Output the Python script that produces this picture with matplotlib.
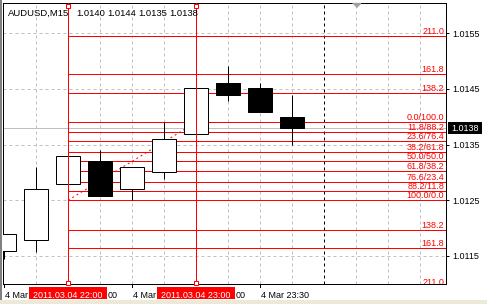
import matplotlib
matplotlib.use("Agg")
import matplotlib.pyplot as plt
from matplotlib.patches import Rectangle, Polygon
import matplotlib.transforms as mtransforms

# ---------------- data ----------------
symbol = "AUDUSD,M15"
header_values = ["1.0140", "1.0144", "1.0135", "1.0138"]
times = ["21:30", "21:45", "22:00", "22:15", "22:30", "22:45", "23:00", "23:15", "23:30", "23:45"]
opens  = [1.01159, 1.01179, 1.01279, 1.01320, 1.01270, 1.01300, 1.01370, 1.01461, 1.01452, 1.0140]
highs  = [1.01189, 1.01309, 1.01340, 1.01340, 1.01309, 1.01391, 1.01455, 1.01492, 1.01461, 1.0144]
lows   = [1.01145, 1.01158, 1.01260, 1.01258, 1.01250, 1.01288, 1.01365, 1.01429, 1.01409, 1.0135]
closes = [1.01189, 1.01270, 1.01329, 1.01258, 1.01309, 1.01360, 1.01451, 1.01440, 1.01409, 1.0138]
current_price = 1.0138
price_ticks = [1.0155, 1.0145, 1.0135, 1.0125, 1.0115]
price_tick_labels = ["1.0155", "1.0145", "1.0135", "1.0125", "1.0115"]

fib_start_bar = 2   # 2011.03.04 22:00
fib_end_bar = 6     # 2011.03.04 23:00
fib_start_label = "2011.03.04 22:00"
fib_end_label = "2011.03.04 23:00"
fib_low = 1.0125
fib_high = 1.0139
fib_levels = [0.0, 11.8, 23.6, 38.2, 50.0, 61.8, 76.6, 88.2, 100.0]
fib_ext = [138.2, 161.8, 211.0]
separator_bar = 10
shift_bar = 11
time_label_bars = [0, 4, 8]

# ---------------- figure ----------------
W, H, DPI = 487, 304, 100
fig = plt.figure(figsize=(W / DPI, H / DPI), dpi=DPI)
fig.patch.set_facecolor("white")
FONT = "Liberation Sans"
FS = 6.5
PX = 72.0 / DPI  # points per pixel

def fx(x):
    return x / W

def fy(y):
    return 1 - y / H

ax_left, ax_right, ax_top, ax_bot = 3, 446, 3, 284.3
ax = fig.add_axes([fx(ax_left), fy(ax_bot), (ax_right - ax_left) / W, (ax_bot - ax_top) / H])
ax.set_facecolor("white")

bar_px = 32.0
x0_px = 4.0
ax.set_xlim((ax_left - x0_px) / bar_px, (ax_right - x0_px) / bar_px)
k = 55670.0
ax.set_ylim(1.0155 - (ax_bot - 33.3) / k, 1.0155 + (33.3 - ax_top) / k)

for s in ax.spines.values():
    s.set_color("black")
    s.set_linewidth(1.0 * PX)

lw = 1.0 * PX
grid_c = "#C0C0C0"
dash = (0, (3, 3))

# grid
for p in price_ticks:
    ax.axhline(p, color=grid_c, lw=lw, ls=dash, zorder=1)
for i in range(1, 14):
    if i == separator_bar:
        ax.axvline(i, color="black", lw=lw, ls=dash, zorder=1.2)
    else:
        ax.axvline(i, color=grid_c, lw=lw, ls=dash, zorder=1)

# current price line
ax.axhline(current_price, color=grid_c, lw=lw, zorder=1.5)

# fibonacci
rng = fib_high - fib_low
red = "#FF0000"
xr = ax.get_xlim()[1]
lbl_tr = ax.transData + mtransforms.ScaledTranslation(0, 0, fig.dpi_scale_trans)
def fib_line(price, label):
    ax.plot([fib_start_bar, xr], [price, price], color=red, lw=lw, zorder=2, solid_capstyle="butt")
    tr = mtransforms.blended_transform_factory(ax.transAxes, ax.transData) + \
        mtransforms.ScaledTranslation(-2.0 / DPI, 2.0 / DPI, fig.dpi_scale_trans)
    ax.text(1.0, price, label, transform=tr, ha="right", va="baseline", color=red,
            fontsize=FS, family=FONT, zorder=6, clip_on=True)

for L in fib_levels:
    price = fib_high - L / 100.0 * rng
    fib_line(price, f"{L:.1f}/{100 - L:.1f}")
for L in fib_ext:
    fib_line(fib_high - L / 100.0 * rng, f"{L:.1f}")
    fib_line(fib_high + (L - 100.0) / 100.0 * rng, f"{L:.1f}")

# dotted trend line of the fibo
ax.plot([fib_start_bar, fib_end_bar], [fib_low, fib_high], color=red, lw=lw,
        ls=(0, (2, 3)), zorder=2)

# candles
bw = 0.75
for i, (o, h, l, c) in enumerate(zip(opens, highs, lows, closes)):
    top, bot = max(o, c), min(o, c)
    ax.plot([i, i], [top, h], color="black", lw=lw, zorder=3, solid_capstyle="butt")
    ax.plot([i, i], [l, bot], color="black", lw=lw, zorder=3, solid_capstyle="butt")
    fc = "white" if c >= o else "black"
    ax.add_patch(Rectangle((i - bw / 2, bot), bw, top - bot, facecolor=fc,
                           edgecolor="black", lw=lw, zorder=3.5))

# vertical object lines
for b in (fib_start_bar, fib_end_bar):
    ax.axvline(b, color=red, lw=lw, zorder=4)
    btr = mtransforms.blended_transform_factory(ax.transData, ax.transAxes)
    for yy in ((ax_bot - 6.3) / (ax_bot - ax_top), (ax_bot - 283.0) / (ax_bot - ax_top)):
        ax.plot([b], [yy], marker="s", ms=4.4 * PX, mfc="white", mec=red, mew=lw,
                transform=btr, clip_on=False, zorder=7)

# chart shift marker
btr = mtransforms.blended_transform_factory(ax.transData, ax.transAxes)
ax.plot([shift_bar], [(ax_bot - 5.3) / (ax_bot - ax_top)],
        marker=[(-1, 0.5), (1, 0.5), (0, -0.5)], ms=8 * PX, color="#A0A0A0",
        mec="#A0A0A0", transform=btr, clip_on=False, zorder=7)

# right price axis
ax.yaxis.tick_right()
ax.set_yticks(price_ticks)
ax.set_yticklabels(price_tick_labels, fontsize=FS, family=FONT)
ax.tick_params(axis="y", direction="out", length=3 * PX, width=lw, pad=3.5 * PX, colors="black")
ax.set_xticks([])

# current price box
fig.add_artist(Rectangle((fx(448), fy(133.5)), 34 / W, 11 / H, transform=fig.transFigure,
                         facecolor="black", edgecolor="none", zorder=10))
fig.text(fx(465), fy(128.2), f"{current_price:.4f}", color="white", fontsize=FS, family=FONT,
         ha="center", va="center", zorder=11)

# header
fig.text(fx(8), fy(15.7), symbol, fontsize=6.8, family=FONT, va="baseline", zorder=11)
for xx, v in zip([76.3, 107.0, 138.0, 169.3], header_values):
    fig.text(fx(xx), fy(15.7), v, fontsize=6.8, family=FONT, va="baseline", zorder=11)

# time axis
for b in time_label_bars:
    xp = x0_px + b * bar_px
    fig.add_artist(plt.Line2D([fx(xp), fx(xp)], [fy(ax_bot), fy(ax_bot + 3)], color="black",
                              lw=lw, transform=fig.transFigure))
fig.text(fx(5), fy(298), "4 Mar", fontsize=FS, family=FONT, va="baseline")
fig.text(fx(108), fy(298), "00", fontsize=FS, family=FONT, va="baseline")
fig.text(fx(133), fy(298), "4 Mar", fontsize=FS, family=FONT, va="baseline")
fig.text(fx(236), fy(298), "00", fontsize=FS, family=FONT, va="baseline")
fig.text(fx(261), fy(298), "4 Mar " + times[8], fontsize=FS, family=FONT, va="baseline")
for b, lab in ((fib_start_bar, fib_start_label), (fib_end_bar, fib_end_label)):
    xc = x0_px + b * bar_px
    fig.add_artist(Rectangle((fx(xc - 39), fy(299.3)), 78 / W, 12 / H, transform=fig.transFigure,
                             facecolor=red, edgecolor="none", zorder=10))
    fig.text(fx(xc), fy(298), lab, color="white", fontsize=FS, family=FONT,
             ha="center", va="baseline", zorder=11)

# window frame hints
fig.add_artist(Rectangle((0, 0), 1, 4 / H, transform=fig.transFigure,
                         facecolor="#ECE9D8", edgecolor="none", zorder=0))
fig.add_artist(Rectangle((0, fy(300)), 1.5 / W, 1 - fy(300) , transform=fig.transFigure,
                         facecolor="#808080", edgecolor="none", zorder=0))

fig.savefig("out.png", dpi=DPI, facecolor=fig.get_facecolor())
